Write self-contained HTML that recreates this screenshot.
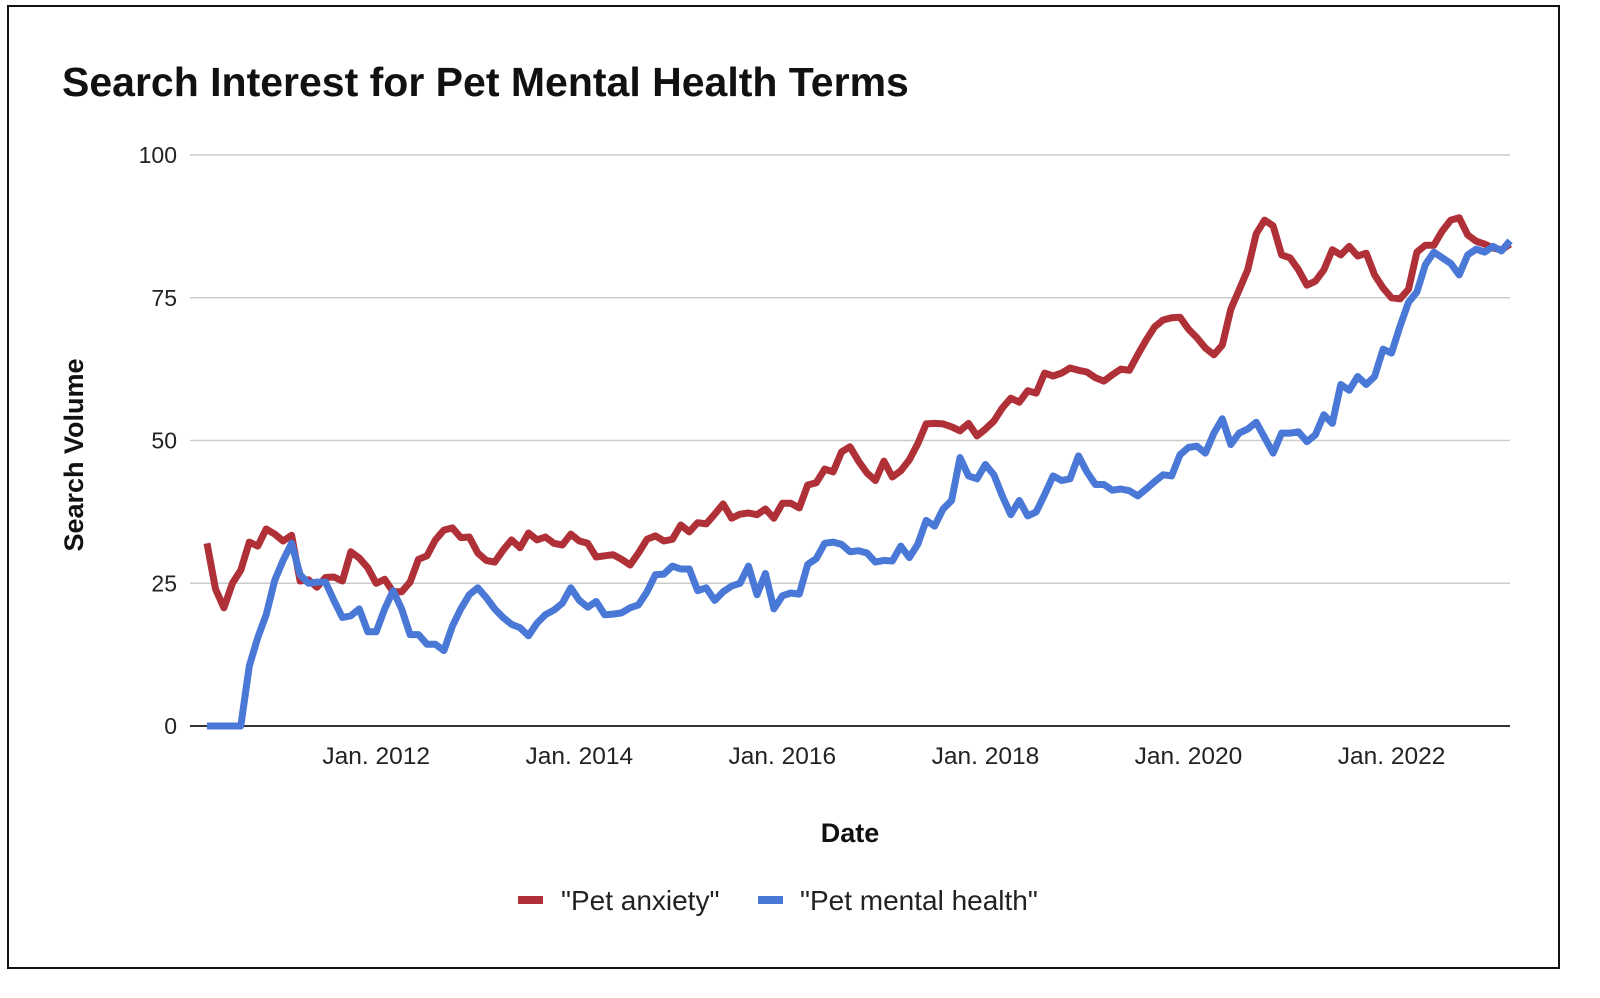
<!DOCTYPE html>
<html><head><meta charset="utf-8"><style>
body{margin:0;width:1600px;height:998px;background:#fff;overflow:hidden;font-family:"Liberation Sans",sans-serif}
#frame{position:absolute;left:7px;top:5px;width:1553px;height:964px;border:2px solid #111;box-sizing:border-box}
</style></head><body>
<div id="frame"></div>
<svg id="chart" width="1600" height="998" style="position:absolute;left:0;top:0">
<text x="62" y="96" font-size="41" font-weight="bold" fill="#111">Search Interest for Pet Mental Health Terms</text>
<g id="grid"></g><g id="lines"></g>
<text x="850" y="842" font-size="27" font-weight="bold" text-anchor="middle" fill="#111">Date</text>
<text transform="translate(83,455) rotate(-90)" font-size="27" font-weight="bold" text-anchor="middle" fill="#111">Search Volume</text>
<g>
<g><rect x="518" y="896" width="25" height="8" fill="#b03038"/><text x="561" y="910" font-size="28" fill="#222">"Pet anxiety"</text></g>
<g><rect x="758" y="896" width="25" height="8" fill="#4a78d6"/><text x="800" y="910" font-size="28" fill="#222">"Pet mental health"</text></g>
</g>
</svg>
<script>
const yTicks=[0,25,50,75,100];
const xTickLabels=["Jan. 2012","Jan. 2014","Jan. 2016","Jan. 2018","Jan. 2020","Jan. 2022"];
const xTickMonths=[20,44,68,92,116,140];
const anxiety=[32,24,20.7,25,27.3,32.2,31.5,34.5,33.6,32.4,33.4,25.4,25.6,24.3,26,26.1,25.4,30.5,29.4,27.7,25,25.7,23.5,23.5,25.2,29.2,29.8,32.6,34.3,34.7,33,33.1,30.3,29,28.7,30.8,32.6,31.2,33.8,32.6,33.1,32,31.7,33.6,32.4,32,29.6,29.8,30,29.2,28.2,30.3,32.7,33.3,32.4,32.7,35.2,34,35.6,35.4,37.1,38.9,36.4,37.1,37.3,37,38,36.4,39,39,38.2,42.2,42.6,45,44.5,48,48.9,46.4,44.3,43,46.4,43.6,44.7,46.6,49.4,52.9,53,52.9,52.4,51.7,53,50.8,52,53.4,55.7,57.4,56.7,58.7,58.3,61.8,61.3,61.8,62.7,62.3,62,61,60.4,61.5,62.5,62.3,65,67.6,69.9,71.1,71.5,71.6,69.5,68,66.2,65,66.7,73,76.4,79.9,86.2,88.6,87.6,82.5,82,79.9,77.2,77.9,79.9,83.4,82.5,84,82.3,82.8,79,76.7,75,74.8,76.5,83,84.2,84.2,86.7,88.6,89,86,84.9,84.4,83.7,83.4,84.4];
const mental=[0,0,0,0,0,10.5,15.5,19.5,25.5,29,32,26.5,25,25.2,25.2,22,19,19.3,20.5,16.5,16.5,20.5,23.7,20.5,16,16,14.3,14.3,13.2,17.5,20.5,23,24.2,22.5,20.5,19,17.8,17.2,15.8,18,19.5,20.3,21.5,24.2,22,20.8,21.8,19.5,19.6,19.8,20.7,21.2,23.5,26.5,26.6,28,27.5,27.5,23.7,24.2,22,23.5,24.5,25,28,23,26.7,20.5,22.8,23.3,23.1,28.3,29.3,32,32.2,31.8,30.5,30.7,30.3,28.7,29,28.9,31.5,29.5,31.8,36,35,38,39.5,47,43.8,43.3,45.8,44,40.3,37,39.5,36.8,37.5,40.5,43.8,43,43.3,47.3,44.5,42.3,42.3,41.3,41.5,41.2,40.3,41.5,42.8,44,43.8,47.5,48.8,49,47.8,51.3,53.8,49.3,51.3,52,53.2,50.5,47.8,51.3,51.3,51.5,49.8,51,54.5,53,59.8,58.8,61.2,59.8,61.2,66,65.3,70,74.2,76,80.8,83,82,81,79,82.5,83.5,83,84,83.2,85];
const NS="http://www.w3.org/2000/svg";
const X0=207,X1=1510,Y0=726,Y1=155;
const xs=i=>X0+i*(X1-X0)/(anxiety.length-1);
const ys=v=>Y0-(v/100)*(Y0-Y1);
const grid=document.getElementById('grid');
yTicks.forEach(t=>{
 const l=document.createElementNS(NS,'line');
 l.setAttribute('x1',190);l.setAttribute('x2',X1);l.setAttribute('y1',ys(t));l.setAttribute('y2',ys(t));
 l.setAttribute('stroke',t===0?'#333':'#ccc');l.setAttribute('stroke-width',t===0?2:1.5);
 
 
 grid.appendChild(l);
 const tx=document.createElementNS(NS,'text');
 tx.setAttribute('x',177);tx.setAttribute('y',ys(t)+8);tx.setAttribute('text-anchor','end');
 tx.setAttribute('font-size','23');tx.setAttribute('fill','#222');tx.textContent=t;
 
 
 grid.appendChild(tx);
});
xTickLabels.forEach((lab,k)=>{
 const tx=document.createElementNS(NS,'text');
 tx.setAttribute('x',xs(xTickMonths[k]));tx.setAttribute('y',764);tx.setAttribute('text-anchor','middle');
 tx.setAttribute('font-size','24.5');tx.setAttribute('fill','#222');tx.textContent=lab;
 
 
 grid.appendChild(tx);
});
const lines=document.getElementById('lines');
[[anxiety,'#b03038','line-pet-anxiety'],[mental,'#4a78d6','line-pet-mental-health']].forEach(([d,c,n])=>{
 const p=document.createElementNS(NS,'polyline');
 p.setAttribute('points',d.map((v,i)=>xs(i).toFixed(1)+','+ys(v).toFixed(1)).join(' '));
 p.setAttribute('fill','none');p.setAttribute('stroke',c);p.setAttribute('stroke-width',7);p.setAttribute('stroke-linejoin','round');
 
 
 lines.appendChild(p);
});
</script>
</body></html>
